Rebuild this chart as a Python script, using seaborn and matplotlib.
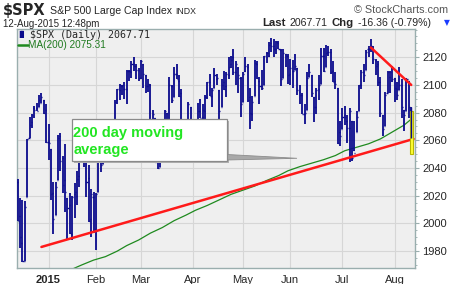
import numpy as np
import pandas as pd
import matplotlib
matplotlib.use("Agg")
import matplotlib.pyplot as plt
import seaborn as sns
from matplotlib.patches import Rectangle, Polygon

# ---------------- data ----------------
dates = [
    "2014-12-12", "2014-12-15", "2014-12-16", "2014-12-17", "2014-12-18", "2014-12-19", "2014-12-22",
    "2014-12-23", "2014-12-24", "2014-12-26", "2014-12-29", "2014-12-30", "2014-12-31",
    "2015-01-02", "2015-01-05", "2015-01-06", "2015-01-07", "2015-01-08", "2015-01-09", "2015-01-12",
    "2015-01-13", "2015-01-14", "2015-01-15", "2015-01-16", "2015-01-20", "2015-01-21", "2015-01-22",
    "2015-01-23", "2015-01-26", "2015-01-27", "2015-01-28", "2015-01-29", "2015-01-30",
    "2015-02-02", "2015-02-03", "2015-02-04", "2015-02-05", "2015-02-06", "2015-02-09", "2015-02-10",
    "2015-02-11", "2015-02-12", "2015-02-13", "2015-02-17", "2015-02-18", "2015-02-19", "2015-02-20",
    "2015-02-23", "2015-02-24", "2015-02-25", "2015-02-26", "2015-02-27",
    "2015-03-02", "2015-03-03", "2015-03-04", "2015-03-05", "2015-03-06", "2015-03-09", "2015-03-10",
    "2015-03-11", "2015-03-12", "2015-03-13", "2015-03-16", "2015-03-17", "2015-03-18", "2015-03-19",
    "2015-03-20", "2015-03-23", "2015-03-24", "2015-03-25", "2015-03-26", "2015-03-27", "2015-03-30",
    "2015-03-31",
    "2015-04-01", "2015-04-02", "2015-04-06", "2015-04-07", "2015-04-08", "2015-04-09", "2015-04-10",
    "2015-04-13", "2015-04-14", "2015-04-15", "2015-04-16", "2015-04-17", "2015-04-20", "2015-04-21",
    "2015-04-22", "2015-04-23", "2015-04-24", "2015-04-27", "2015-04-28", "2015-04-29", "2015-04-30",
    "2015-05-01", "2015-05-04", "2015-05-05", "2015-05-06", "2015-05-07", "2015-05-08", "2015-05-11",
    "2015-05-12", "2015-05-13", "2015-05-14", "2015-05-15", "2015-05-18", "2015-05-19", "2015-05-20",
    "2015-05-21", "2015-05-22", "2015-05-26", "2015-05-27", "2015-05-28", "2015-05-29",
    "2015-06-01", "2015-06-02", "2015-06-03", "2015-06-04", "2015-06-05", "2015-06-08", "2015-06-09",
    "2015-06-10", "2015-06-11", "2015-06-12", "2015-06-15", "2015-06-16", "2015-06-17", "2015-06-18",
    "2015-06-19", "2015-06-22", "2015-06-23", "2015-06-24", "2015-06-25", "2015-06-26", "2015-06-29",
    "2015-06-30",
    "2015-07-01", "2015-07-02", "2015-07-06", "2015-07-07", "2015-07-08", "2015-07-09", "2015-07-10",
    "2015-07-13", "2015-07-14", "2015-07-15", "2015-07-16", "2015-07-17", "2015-07-20", "2015-07-21",
    "2015-07-22", "2015-07-23", "2015-07-24", "2015-07-27", "2015-07-28", "2015-07-29", "2015-07-30",
    "2015-07-31",
    "2015-08-03", "2015-08-04", "2015-08-05", "2015-08-06", "2015-08-07", "2015-08-10", "2015-08-11",
    "2015-08-12",
]

opens = [
    2030, 2005, 1986, 1973, 2019, 2062, 2073, 2083, 2083, 2084, 2087, 2089, 2082,
    2059, 2054, 2022, 2006, 2031, 2063, 2047, 2031, 2018, 2013, 1992, 2021, 2020, 2034, 2062, 2050,
    2044, 2033, 2003, 2019,
    1996, 2023, 2049, 2043, 2062, 2054, 2050, 2068, 2070, 2089, 2096, 2099, 2097, 2097, 2110, 2109,
    2115, 2114, 2111,
    2105, 2115, 2107, 2099, 2100, 2072, 2076, 2045, 2041, 2065, 2055, 2080, 2072, 2099, 2091, 2108,
    2103, 2094, 2060, 2056, 2064, 2084,
    2067, 2060, 2064, 2081, 2077, 2081, 2091, 2102, 2092, 2098, 2104, 2096, 2084, 2102, 2099, 2107,
    2115, 2120, 2109, 2112, 2105,
    2088, 2110, 2113, 2091, 2079, 2092, 2115, 2103, 2099, 2100, 2123, 2121, 2130, 2128, 2126, 2130,
    2125, 2105, 2122, 2121,
    2108, 2110, 2111, 2112, 2095, 2093, 2079, 2082, 2106, 2107, 2091, 2084, 2097, 2101, 2121, 2113,
    2124, 2124, 2110, 2103, 2098, 2066,
    2068, 2078, 2074, 2069, 2074, 2053, 2066, 2081, 2100, 2109, 2111, 2126, 2127, 2127, 2118, 2115,
    2102, 2078, 2070, 2094, 2106, 2112,
    2105, 2097, 2096, 2100, 2082, 2081, 2103, 2082,
]
highs = [
    2032, 2018, 2017, 2016, 2061, 2077, 2079, 2085, 2087, 2093, 2094, 2089, 2086,
    2072, 2054, 2030, 2030, 2064, 2065, 2049, 2057, 2018, 2022, 2020, 2029, 2038, 2064, 2062, 2058,
    2047, 2042, 2025, 2023,
    2022, 2051, 2054, 2064, 2072, 2061, 2070, 2074, 2089, 2097, 2101, 2100, 2102, 2111, 2111, 2117,
    2120, 2115, 2112,
    2118, 2115, 2107, 2104, 2101, 2082, 2076, 2051, 2066, 2066, 2082, 2080, 2106, 2100, 2113, 2115,
    2107, 2097, 2068, 2062, 2088, 2084,
    2067, 2072, 2087, 2090, 2086, 2093, 2102, 2108, 2098, 2112, 2108, 2096, 2104, 2110, 2109, 2120,
    2121, 2126, 2117, 2113, 2106,
    2109, 2120, 2115, 2098, 2092, 2118, 2117, 2106, 2111, 2121, 2124, 2131, 2134, 2133, 2132, 2132,
    2126, 2126, 2122, 2122,
    2119, 2118, 2122, 2112, 2100, 2094, 2086, 2109, 2115, 2107, 2091, 2098, 2107, 2127, 2127, 2129,
    2128, 2126, 2117, 2109, 2098, 2074,
    2083, 2085, 2078, 2083, 2074, 2074, 2081, 2100, 2111, 2115, 2125, 2128, 2133, 2128, 2119, 2117,
    2106, 2078, 2095, 2110, 2110, 2114,
    2105, 2102, 2113, 2104, 2082, 2105, 2103, 2084,
]
lows = [
    2002, 1982, 1972, 1973, 2019, 2062, 2069, 2076, 2081, 2084, 2087, 2079, 2058,
    2046, 2017, 1992, 2006, 2031, 2038, 2022, 2008, 1989, 1992, 1988, 2004, 2013, 2026, 2050, 2041,
    2019, 2001, 1990, 1993,
    1981, 2023, 2037, 2043, 2049, 2044, 2048, 2059, 2070, 2086, 2089, 2093, 2090, 2086, 2103, 2105,
    2110, 2104, 2103,
    2104, 2098, 2094, 2095, 2067, 2067, 2044, 2039, 2041, 2045, 2055, 2066, 2061, 2087, 2091, 2104,
    2091, 2061, 2046, 2052, 2064, 2067,
    2049, 2057, 2056, 2076, 2074, 2073, 2090, 2092, 2084, 2098, 2100, 2073, 2084, 2096, 2091, 2104,
    2112, 2107, 2100, 2094, 2077,
    2088, 2109, 2088, 2068, 2074, 2092, 2104, 2086, 2096, 2100, 2116, 2120, 2124, 2120, 2122, 2126,
    2099, 2105, 2113, 2101,
    2100, 2098, 2111, 2093, 2086, 2079, 2072, 2082, 2106, 2091, 2073, 2079, 2089, 2101, 2109, 2113,
    2121, 2108, 2102, 2097, 2057, 2056,
    2068, 2071, 2058, 2044, 2045, 2052, 2066, 2081, 2097, 2102, 2111, 2120, 2124, 2115, 2107, 2099,
    2077, 2063, 2070, 2094, 2094, 2102,
    2088, 2089, 2096, 2076, 2067, 2081, 2076, 2062,
]
closes = [
    2002, 1990, 1973, 2012, 2061, 2071, 2078, 2082, 2081, 2089, 2091, 2080, 2059,
    2058, 2021, 2003, 2026, 2062, 2045, 2028, 2023, 2011, 1993, 2019, 2023, 2032, 2063, 2052, 2057,
    2030, 2002, 2021, 1995,
    2021, 2050, 2042, 2063, 2055, 2047, 2069, 2069, 2088, 2097, 2100, 2100, 2097, 2110, 2110, 2115,
    2114, 2111, 2105,
    2117, 2108, 2099, 2101, 2071, 2079, 2044, 2040, 2066, 2053, 2081, 2074, 2100, 2089, 2108, 2104,
    2092, 2061, 2056, 2061, 2086, 2068,
    2060, 2067, 2081, 2076, 2082, 2091, 2102, 2092, 2096, 2107, 2105, 2081, 2100, 2097, 2108, 2113,
    2118, 2109, 2115, 2107, 2086,
    2108, 2114, 2089, 2080, 2088, 2116, 2105, 2099, 2098, 2121, 2123, 2129, 2128, 2126, 2131, 2126,
    2104, 2123, 2121, 2107,
    2112, 2110, 2114, 2096, 2093, 2079, 2080, 2105, 2109, 2094, 2084, 2096, 2100, 2121, 2110, 2123,
    2124, 2109, 2102, 2101, 2058, 2063,
    2077, 2077, 2069, 2081, 2047, 2051, 2077, 2100, 2109, 2107, 2124, 2127, 2128, 2119, 2114, 2102,
    2080, 2068, 2093, 2109, 2109, 2104,
    2098, 2093, 2100, 2084, 2078, 2104, 2084, 2068,
]

# 200-day moving average, read weekly
ma_dates = [
    "2014-12-12", "2014-12-19", "2014-12-26", "2015-01-02", "2015-01-09", "2015-01-16", "2015-01-23",
    "2015-01-30", "2015-02-06", "2015-02-13", "2015-02-20", "2015-02-27", "2015-03-06", "2015-03-13",
    "2015-03-20", "2015-03-27", "2015-04-02", "2015-04-10", "2015-04-17", "2015-04-24", "2015-05-01",
    "2015-05-08", "2015-05-15", "2015-05-22", "2015-05-29", "2015-06-05", "2015-06-12", "2015-06-19",
    "2015-06-26", "2015-07-02", "2015-07-10", "2015-07-17", "2015-07-24", "2015-07-31", "2015-08-07",
    "2015-08-12",
]
ma_values = [
    1953, 1956, 1959, 1962, 1964.5, 1967, 1970, 1973.5, 1976, 1980, 1984, 1988, 1993, 1997,
    2002, 2006, 2009.5, 2013, 2017, 2021, 2024, 2027, 2031, 2034.5, 2038, 2041, 2043.5, 2046,
    2049, 2052.5, 2055, 2057.5, 2061, 2066, 2071, 2075.31,
]

support_dates = ["2014-12-29", "2015-08-13"]
support_values = [1983, 2061]
resist_dates = ["2015-07-20", "2015-08-12"]
resist_values = [2127, 2100]

month_ticks = ["2015-01-02", "2015-02-02", "2015-03-02", "2015-04-01", "2015-05-01",
               "2015-06-01", "2015-07-01", "2015-08-03"]
month_labels = ["2015", "Feb", "Mar", "Apr", "May", "Jun", "Jul", "Aug"]
y_ticks = [1980, 2000, 2020, 2040, 2060, 2080, 2100, 2120]

# ---------------- helpers ----------------
idx = {d: i for i, d in enumerate(dates)}


def pos(d):
    if d in idx:
        return idx[d]
    last = pd.Timestamp(dates[-1])
    return len(dates) - 1 + len(pd.bdate_range(last, pd.Timestamp(d))) - 1


df = pd.DataFrame({"x": np.arange(len(dates)), "open": opens, "high": highs,
                   "low": lows, "close": closes})
ma_df = pd.DataFrame({"x": [pos(d) for d in ma_dates], "ma": ma_values})

# ---------------- figure ----------------
sns.set_style("white")
plt.rcParams["font.family"] = ["Liberation Sans", "DejaVu Sans"]

fig = plt.figure(figsize=(4.6, 2.84), dpi=100)
W, H = 460, 284
ax = fig.add_axes([17 / W, (H - 268) / H, (415 - 17) / W, (268 - 29) / H])
ax.set_facecolor("#efefef")
for s in ax.spines.values():
    s.set_color("#9aaeae")
    s.set_linewidth(1.0)

ax.set_xlim(-0.3, 167.6)
ax.set_ylim(1967.8, 2140.4)

xt = [pos(d) for d in month_ticks]
ax.set_xticks(xt)
ax.set_xticklabels(month_labels)
ax.set_yticks(y_ticks)
ax.set_yticks(np.arange(1970, 2141, 5), minor=True)
ax.grid(True, which="major", color="#d6d6d6", linewidth=0.8)
ax.set_axisbelow(True)
ax.yaxis.tick_right()
ax.tick_params(axis="y", which="major", length=3, color="#9aaeae", labelsize=8, pad=2)
ax.tick_params(axis="y", which="minor", length=1.5, color="#9aaeae", right=True, left=False)
ax.tick_params(axis="x", length=3, color="#9aaeae", labelsize=8, pad=2)
for lab in ax.get_xticklabels():
    if lab.get_text() == "2015":
        lab.set_fontweight("bold")

sns.lineplot(data=ma_df, x="x", y="ma", ax=ax, color="#1f8a1f", linewidth=0.9, legend=False)

bar_c = "#0a0a8c"
ax.vlines(df["x"], df["low"], df["high"], color=bar_c, linewidth=1.3, zorder=3)
ax.hlines(df["open"], df["x"] - 0.45, df["x"], color=bar_c, linewidth=1.0, zorder=3)
ax.hlines(df["close"], df["x"], df["x"] + 0.45, color=bar_c, linewidth=1.0, zorder=3)

sns.lineplot(x=[pos(d) for d in support_dates], y=support_values, ax=ax, color="#ff1a1a",
             linewidth=1.8, legend=False, zorder=4)
sns.lineplot(x=[pos(d) for d in resist_dates], y=resist_values, ax=ax, color="#ff1a1a",
             linewidth=1.8, legend=False, zorder=4)

last_x = len(dates) - 1
ax.add_patch(Rectangle((last_x - 0.6, 2050), 1.2, 31, facecolor="#ffff33",
                       edgecolor="#b8b800", linewidth=0.8, zorder=5))
ax.vlines([last_x], [lows[-1]], [highs[-1]], color=bar_c, linewidth=1.0, zorder=6)
ax.set_xlabel("")
ax.set_ylabel("")


def fx(px):
    return px / W


def fy(py):
    return 1 - py / H


renderer = fig.canvas.get_renderer()


def text_run(x0, y, parts, gap=3.5):
    """Place text pieces left to right (pixel coordinates), measuring each."""
    x = x0
    for s, kw in parts:
        t = fig.text(fx(x), fy(y), s, va="center", ha="left", **kw)
        bb = t.get_window_extent(renderer=renderer)
        x += bb.width + gap
    return x


# annotation callout
shadow = Rectangle((fx(74), fy(163)), fx(155), fy(121) - fy(163), transform=fig.transFigure,
                   facecolor="#b0b0b0", edgecolor="none", zorder=8)
fig.patches.append(shadow)
tail = Polygon([[fx(227), fy(154.5)], [fx(297), fy(158.3)], [fx(227), fy(160)]],
               closed=True, transform=fig.transFigure, facecolor="#a8a8a8",
               edgecolor="#8c8c8c", linewidth=0.6, zorder=8)
fig.patches.append(tail)
box = Rectangle((fx(72), fy(161)), fx(155), fy(119) - fy(161), transform=fig.transFigure,
                facecolor="white", edgecolor="#8a8a8a", linewidth=0.9, zorder=9)
fig.patches.append(box)
fig.text(fx(73.5), fy(132.5), "200 day moving", color="#22e622", fontsize=10.5, fontweight="bold",
         va="center", ha="left", zorder=10)
fig.text(fx(73.5), fy(150), "average", color="#22e622", fontsize=10.5, fontweight="bold",
         va="center", ha="left", zorder=10)

# header texts (left)
text_run(3, 11, [
    ("$SPX", dict(fontsize=10.5, fontweight="bold", family="DejaVu Sans")),
    ("S&P 500 Large Cap Index", dict(fontsize=7.6)),
    ("INDX", dict(fontsize=6.3)),
], gap=4)
fig.text(fx(3), fy(24), "12-Aug-2015 12:48pm", fontsize=7.0, va="center", ha="left")

# header texts (right)
fig.text(fx(448), fy(10), "\u00a9 StockCharts.com", fontsize=7.8, color="#555555",
         va="center", ha="right")
text_run(262, 22.5, [
    ("Last", dict(fontsize=8.2, fontweight="bold")),
    ("2067.71", dict(fontsize=7.6)),
    ("Chg", dict(fontsize=8.2, fontweight="bold")),
    ("-16.36 (-0.79%)", dict(fontsize=7.6)),
], gap=4)
fig.text(fx(447), fy(23), "\u25bc", fontsize=5.5, color="#1a3cff", family="DejaVu Sans",
         va="center", ha="center")

# legend inside plot
fig.text(fx(22), fy(34.5), "\u2590\u258c", fontsize=5, color="#0a0a8c", family="DejaVu Sans",
         va="center", ha="center", zorder=10)
fig.text(fx(30), fy(34.5), "$SPX (Daily) 2067.71", fontsize=7.2, family="DejaVu Sans Mono",
         va="center", ha="left", zorder=10)
fig.add_artist(plt.Line2D([fx(18), fx(28)], [fy(44.5), fy(44.5)], color="#1f8a1f",
                          linewidth=1.8, transform=fig.transFigure))
fig.text(fx(28.5), fy(44.5), "MA(200) 2075.31", fontsize=7.2, color="#1f7a1f",
         va="center", ha="left", zorder=10)

fig.savefig("out.png", dpi=100, facecolor="white")
